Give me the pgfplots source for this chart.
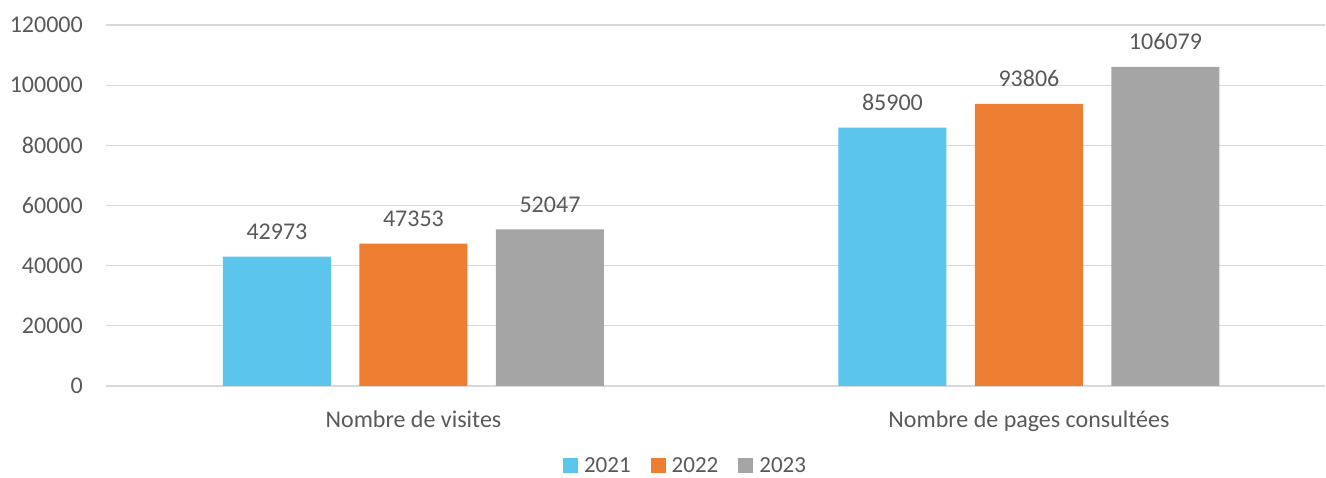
\documentclass[border=0pt]{standalone}
\usepackage{fontspec}
\setmainfont{Carlito}
\usepackage{pgfplots}
\pgfplotsset{compat=1.18}
\definecolor{c21}{HTML}{5BC5EB}
\definecolor{c22}{HTML}{ED7D31}
\definecolor{c23}{HTML}{A5A5A5}
\definecolor{txt}{HTML}{595959}
\definecolor{gridc}{HTML}{D9D9D9}
\begin{document}
\begin{tikzpicture}[x=1pt,y=1pt]
\useasboundingbox (0,0) rectangle (1326,478);
\begin{axis}[
  at={(106pt,92pt)}, anchor=south west,
  scale only axis, width=1219pt, height=361pt,
  xmin=-0.4996, xmax=1.481, ymin=0, ymax=120000,
  ytick={0,20000,40000,60000,80000,100000,120000},
  xtick={0,1},
  xticklabels={Nombre de visites, Nombre de pages consultées},
  scaled y ticks=false,
  /pgf/number format/assume math mode=true,
  /pgf/number format/fixed,
  /pgf/number format/1000 sep={},
  ymajorgrids, grid style={gridc, line width=1.3pt},
  axis line style={draw=none},
  major tick style={draw=none},
  tick label style={font=\fontsize{24}{28}\selectfont, color=txt},
  y tick label style={anchor=east, inner sep=0pt, xshift=-23pt},
  x tick label style={anchor=north, inner sep=0pt, yshift=-20pt},
  ybar, bar width=108pt,
  nodes near coords,
  every node near coord/.append style={font=\fontsize{24}{28}\selectfont, color=txt, anchor=base, inner sep=0pt, yshift=17pt},
  legend columns=3,
  legend style={at={(0.4746,-0.222)}, anchor=center, draw=none, fill=none,
    font=\fontsize{23}{27}\selectfont, text=txt,
    nodes={inner sep=0pt, anchor=base west},
    /tikz/every odd column/.append style={column sep=6pt},
    /tikz/every even column/.append style={column sep=20pt}},
  legend image code/.code={\fill[#1] (0pt,0pt) rectangle (15pt,15pt);},
  clip=false,
]
\addplot[fill=c21, draw=none, bar shift=-136.5pt] coordinates {(0,42973) (1,85900)};
\addplot[fill=c22, draw=none, bar shift=0pt] coordinates {(0,47353) (1,93806)};
\addplot[fill=c23, draw=none, bar shift=136.5pt] coordinates {(0,52047) (1,106079)};
\legend{2021,2022,2023}
\end{axis}
\end{tikzpicture}
\end{document}
